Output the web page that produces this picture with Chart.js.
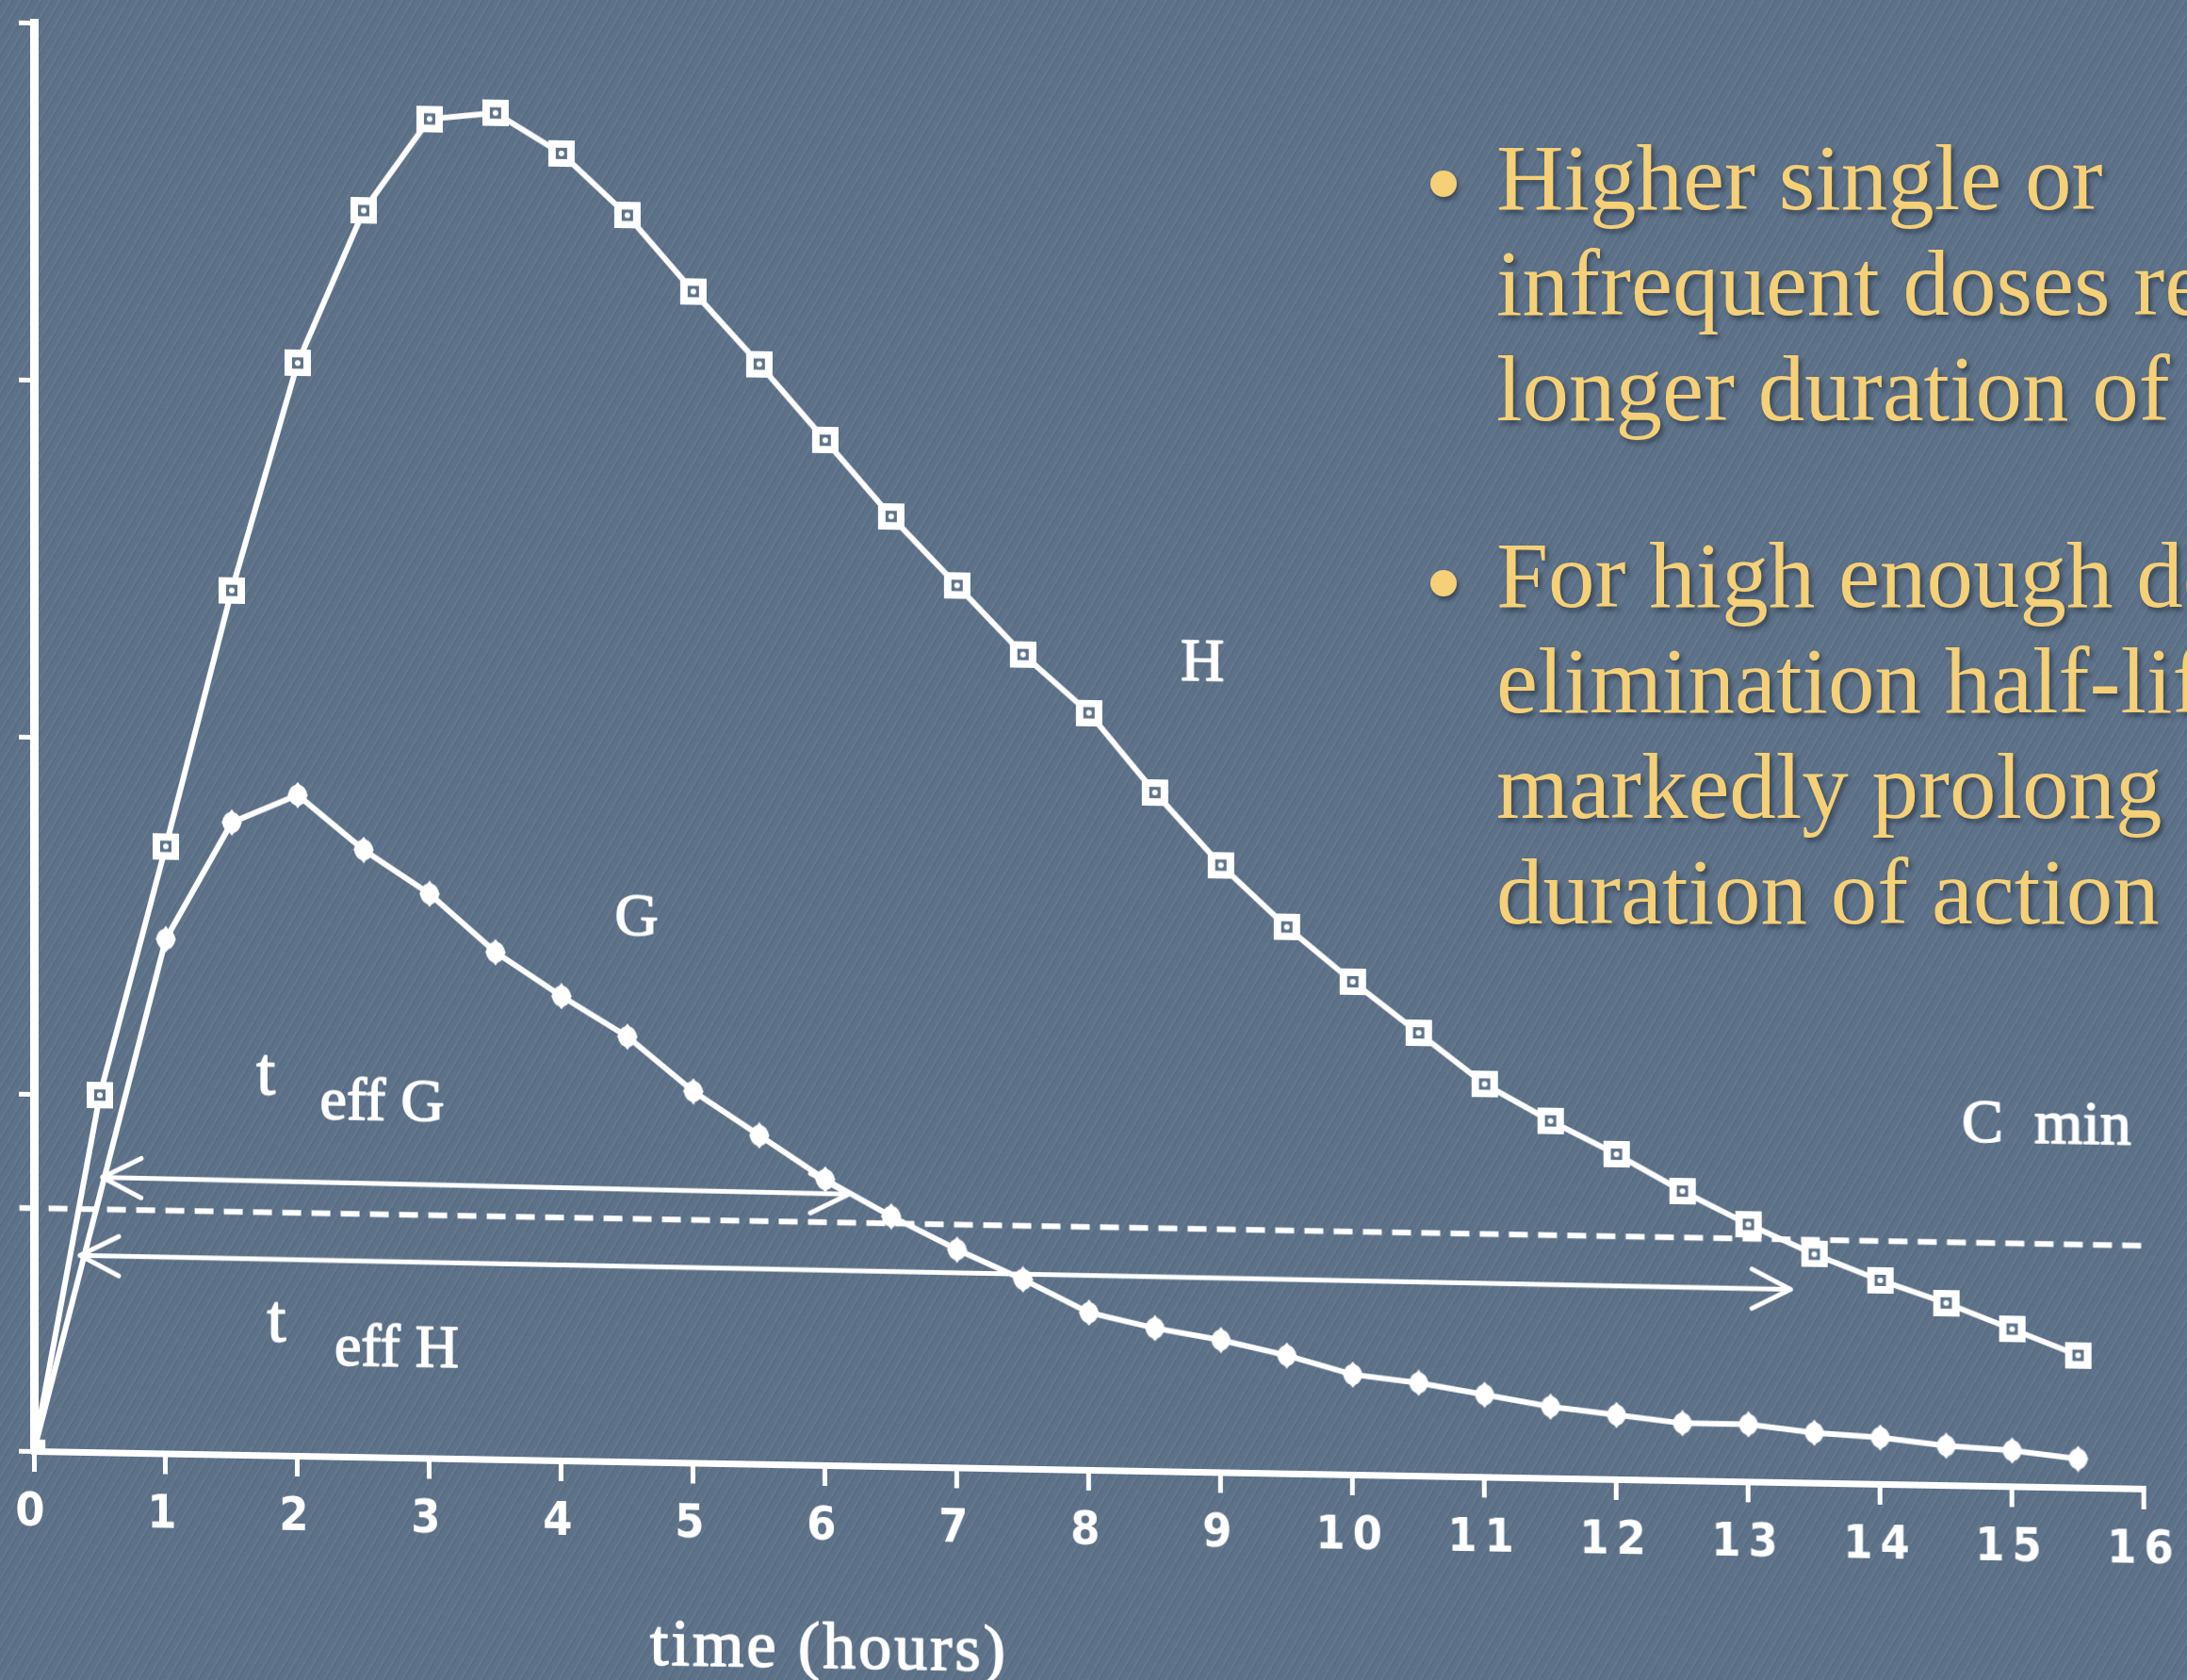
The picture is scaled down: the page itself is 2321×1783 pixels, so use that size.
<!DOCTYPE html>
<html>
<head>
<meta charset="utf-8">
<title>Higher doses and duration of action</title>
<script src="https://cdn.jsdelivr.net/npm/chart.js@4.4.1/dist/chart.umd.min.js"></script>
<style>
  html, body { margin: 0; padding: 0; width: 2321px; height: 1783px; overflow: hidden; }
  body {
    background-color: #5d7289;
    background-image: repeating-linear-gradient(120deg, rgba(255,255,255,0.035) 0 2px, rgba(0,0,0,0.04) 2px 4px, rgba(0,0,0,0) 4px 9px);
    font-family: 'Liberation Serif', serif;
  }
  /* the scanned figure is slightly tilted */
  #chart { position: absolute; left: 0; top: 0; width: 2321px; height: 1783px;
           transform: skewY(1.02deg); transform-origin: 36px 0; }
  .bullet { position: absolute; left: 1588px; font-size: 99px; line-height: 112px; color: #f5d077;
            white-space: nowrap; text-shadow: 3px 4px 5px rgba(25,35,50,0.55); }
  .dot { position: absolute; left: 1518px; width: 28px; height: 28px; border-radius: 50%;
         background: #f5d077; box-shadow: 2px 4px 4px rgba(25,35,50,0.5); }
</style>
</head>
<body>
<canvas id="chart" width="2321" height="1783"></canvas>

<div class="dot" style="top:181px"></div>
<div class="bullet" style="top:133px">Higher single or<br>infrequent doses result in<br>longer duration of action</div>
<div class="dot" style="top:605px"></div>
<div class="bullet" style="top:555px">For high enough doses,<br>elimination half-life may<br>markedly prolong<br>duration of action</div>

<script>
// time in hours, one sample every half hour
const hours = [0, 0.5, 1, 1.5, 2, 2.5, 3, 3.5, 4, 4.5, 5, 5.5, 6, 6.5, 7, 7.5,
               8, 8.5, 9, 9.5, 10, 10.5, 11, 11.5, 12, 12.5, 13, 13.5, 14, 14.5, 15, 15.5];

// concentration, higher dose (H)
const doseH = [0, 1.00, 1.70, 2.42, 3.06, 3.49, 3.75, 3.77, 3.66, 3.49, 3.28, 3.08, 2.87, 2.66, 2.47, 2.28,
               2.12, 1.90, 1.70, 1.53, 1.38, 1.24, 1.10, 1.00, 0.91, 0.81, 0.72, 0.64, 0.57, 0.51, 0.44, 0.37];

// concentration, lower dose (G) - no sample at 0.5 h
const doseG = [0, null, 1.44, 1.77, 1.85, 1.70, 1.58, 1.42, 1.30, 1.19, 1.04, 0.92, 0.80, 0.70, 0.61, 0.53,
               0.44, 0.40, 0.37, 0.33, 0.28, 0.26, 0.23, 0.20, 0.18, 0.16, 0.16, 0.14, 0.13, 0.11, 0.10, 0.08];

// minimum effective concentration
const cMinTime = [-0.11, 16.0];
const cMinLevel = [0.68, 0.68];

// effective duration arrows
const effGTime = [0.52, 6.18];
const effGLevel = [0.77, 0.76];
const effHTime = [0.35, 13.32];
const effHLevel = [0.55, 0.54];

const hourTicks = [0, 1, 2, 3, 4, 5, 6, 7, 8, 9, 10, 11, 12, 13, 14, 15, 16];
const levelTicks = [0, 1, 2, 3, 4];

// text placed on the figure (data coordinates)
const notes = [
    { text: 'H', x: 8.86, y: 2.26, size: 64 },
    { text: 'G', x: 4.57, y: 1.52, size: 64 },
    { text: 't', x: 1.76, y: 1.06, size: 72 },
    { text: 'eff G', x: 2.64, y: 0.99, size: 64 },
    { text: 't', x: 1.84, y: 0.37, size: 72 },
    { text: 'eff H', x: 2.75, y: 0.30, size: 64 },
    { text: 'C  min', x: 15.26, y: 1.01, size: 66 },
    { text: 'time (hours)', x: 6.03, y: -0.52, size: 70, spacing: '3px' }
];

const BG = '#5d7289';
const INK = '#ffffff';

function toPoints(xs, ys) {
    return xs.map((x, i) => ({ x: x, y: ys[i] }));
}

function squareMarker() {
    const c = document.createElement('canvas');
    c.width = 28; c.height = 28;
    const g = c.getContext('2d');
    g.fillStyle = INK;
    g.fillRect(0, 0, 28, 28);
    g.fillStyle = BG;
    g.fillRect(8, 8, 12, 12);
    g.fillStyle = INK;
    g.beginPath();
    g.arc(14, 14, 3, 0, Math.PI * 2);
    g.fill();
    return c;
}

function dotMarker() {
    const c = document.createElement('canvas');
    c.width = 24; c.height = 28;
    const g = c.getContext('2d');
    g.fillStyle = INK;
    g.beginPath();
    g.moveTo(12, 0); g.lineTo(23, 14); g.lineTo(12, 28); g.lineTo(1, 14);
    g.closePath();
    g.fill();
    g.beginPath();
    g.ellipse(12, 14, 10, 11, 0, 0, Math.PI * 2);
    g.fill();
    return c;
}

function drawHead(ctx, tip, from) {
    const ang = Math.atan2(tip.y - from.y, tip.x - from.x);
    const len = 46, spread = 27 * Math.PI / 180;
    ctx.beginPath();
    [1, -1].forEach(s => {
        ctx.moveTo(tip.x, tip.y);
        ctx.lineTo(tip.x - len * Math.cos(ang + s * spread), tip.y - len * Math.sin(ang + s * spread));
    });
    ctx.stroke();
}

const figurePlugin = {
    id: 'figure',
    beforeDraw(chart) {
        chart.ctx.letterSpacing = '8px';
    },
    beforeDatasetsDraw(chart) {
        chart.ctx.letterSpacing = '0px';
    },
    afterDatasetsDraw(chart) {
        const ctx = chart.ctx;
        const { x, y } = chart.scales;
        ctx.save();
        ctx.strokeStyle = INK;
        ctx.lineWidth = 5;
        ctx.lineCap = 'round';
        chart.data.datasets.forEach((ds, i) => {
            if (!ds.arrowHeads) return;
            const pts = chart.getDatasetMeta(i).data;
            const a = pts[0], b = pts[pts.length - 1];
            drawHead(ctx, a, b);
            drawHead(ctx, b, a);
        });

        // labels: filled plus a thin stroke, the scan is heavier than the font
        ctx.fillStyle = INK;
        ctx.lineWidth = 1.6;
        ctx.lineJoin = 'round';
        ctx.textAlign = 'center';
        ctx.textBaseline = 'middle';
        notes.forEach(n => {
            ctx.letterSpacing = n.spacing || '0px';
            ctx.font = n.size + "px 'Liberation Serif', serif";
            const px = x.getPixelForValue(n.x), py = y.getPixelForValue(n.y);
            ctx.fillText(n.text, px, py);
            ctx.strokeText(n.text, px, py);
        });
        ctx.restore();
    }
};

function buildChart() {
    const canvas = document.getElementById('chart');
    const square = squareMarker();
    const dot = dotMarker();

    const lineCommon = {
        borderColor: INK,
        backgroundColor: INK,
        pointBackgroundColor: INK,
        fill: false,
        tension: 0
    };

    new Chart(canvas.getContext('2d'), {
        type: 'line',
        data: {
            datasets: [
                Object.assign({}, lineCommon, {
                    label: 'H',
                    data: toPoints(hours, doseH),
                    borderWidth: 6,
                    pointStyle: c => c.dataIndex === 0 ? 'rect' : square,
                    pointRadius: 13
                }),
                Object.assign({}, lineCommon, {
                    label: 'G',
                    data: toPoints(hours, doseG),
                    spanGaps: true,
                    borderWidth: 6,
                    pointStyle: dot,
                    pointRadius: 12
                }),
                Object.assign({}, lineCommon, {
                    label: 'C min',
                    data: toPoints(cMinTime, cMinLevel),
                    borderWidth: 6,
                    borderDash: [20, 11],
                    pointRadius: 0,
                    clip: false
                }),
                Object.assign({}, lineCommon, {
                    label: 't eff G',
                    data: toPoints(effGTime, effGLevel),
                    borderWidth: 5,
                    pointRadius: 0,
                    arrowHeads: true
                }),
                Object.assign({}, lineCommon, {
                    label: 't eff H',
                    data: toPoints(effHTime, effHLevel),
                    borderWidth: 5,
                    pointRadius: 0,
                    arrowHeads: true
                })
            ]
        },
        options: {
            responsive: false,
            animation: false,
            events: [],
            layout: { padding: { left: 16, right: 45, top: 24, bottom: 150 } },
            plugins: { legend: { display: false }, tooltip: { enabled: false } },
            scales: {
                x: {
                    type: 'linear',
                    min: 0,
                    max: 16,
                    afterBuildTicks: s => { s.ticks = hourTicks.map(v => ({ value: v })); },
                    afterFit: s => { s.height = 93; },
                    border: { display: true, color: INK, width: 7 },
                    grid: { drawOnChartArea: false, drawTicks: true, tickLength: 22, color: INK, lineWidth: 5 },
                    ticks: {
                        color: INK,
                        padding: 14,
                        maxRotation: 0,
                        autoSkip: false,
                        font: { family: "'Liberation Sans Narrow', 'DejaVu Sans Condensed', sans-serif", size: 50, weight: 'bold' }
                    }
                },
                y: {
                    type: 'linear',
                    min: 0,
                    max: 4,
                    afterBuildTicks: s => { s.ticks = levelTicks.map(v => ({ value: v })); },
                    afterFit: s => { s.width = 20; },
                    border: { display: true, color: INK, width: 9 },
                    grid: { drawOnChartArea: false, drawTicks: true, tickLength: 16, color: INK, lineWidth: 5 },
                    ticks: { display: false }
                }
            }
        },
        plugins: [figurePlugin]
    });
}

document.addEventListener('DOMContentLoaded', buildChart);
</script>
</body>
</html>
